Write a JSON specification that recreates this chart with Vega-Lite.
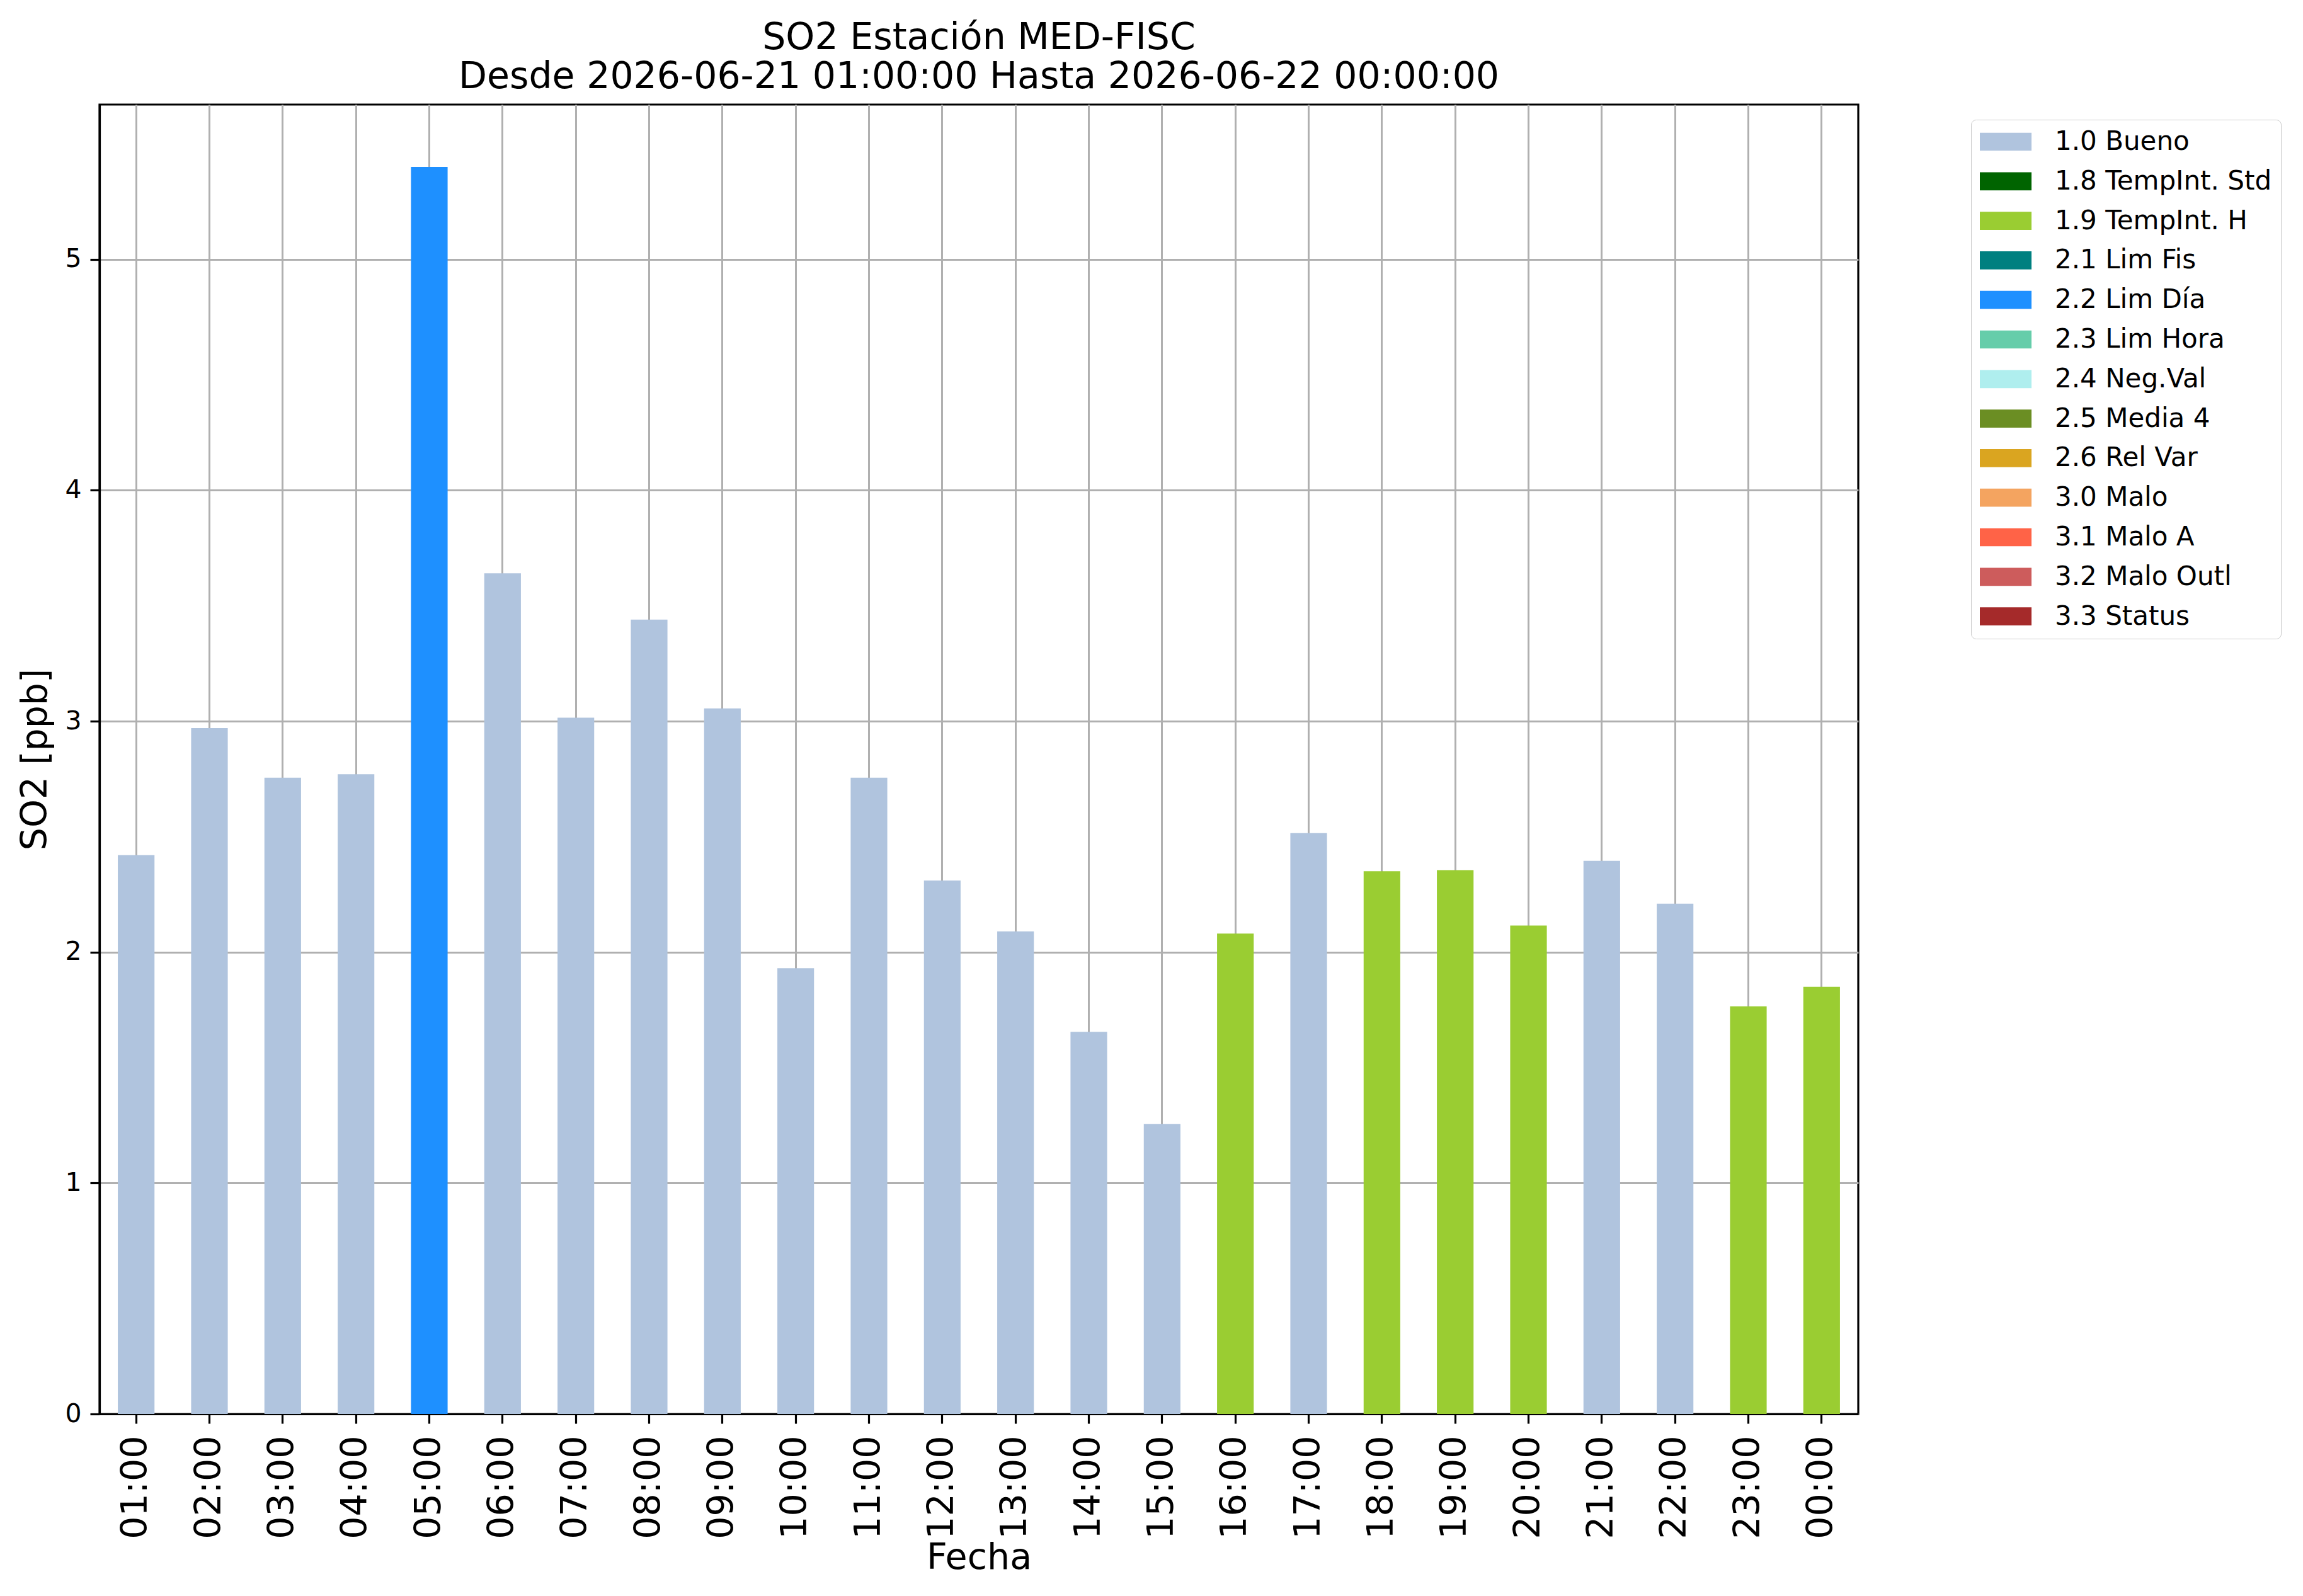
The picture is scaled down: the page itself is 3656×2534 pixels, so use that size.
{
  "$schema": "https://vega.github.io/schema/vega-lite/v6.json",
  "description": "SO2 hourly concentration at station MED-FISC with validation flags.",
  "autosize": {"type": "none"},
  "padding": {"left": 158, "top": 166, "right": 706, "bottom": 289},
  "width": 2792,
  "height": 2079,
  "background": "white",
  "title": {
    "text": ["SO2 Estación MED-FISC", "Desde 2026-06-21 01:00:00 Hasta 2026-06-22 00:00:00"],
    "font": "DejaVu Sans",
    "fontSize": 58.5,
    "fontWeight": "normal",
    "color": "black",
    "anchor": "middle",
    "baseline": "bottom",
    "lineHeight": 62,
    "offset": -44
  },
  "config": {
    "view": {"stroke": "black", "strokeWidth": 3.2},
    "axis": {
      "labelFont": "DejaVu Sans",
      "titleFont": "DejaVu Sans",
      "labelColor": "black",
      "titleColor": "black",
      "titleFontWeight": "normal",
      "domainColor": "black",
      "domainWidth": 3.2,
      "tickColor": "black",
      "tickWidth": 3.2,
      "tickSize": 15,
      "gridColor": "#b0b0b0",
      "gridWidth": 3,
      "gridOpacity": 1,
      "zindex": 1
    },
    "legend": {
      "labelFont": "DejaVu Sans",
      "labelFontSize": 42,
      "labelColor": "black",
      "labelLimit": 0
    }
  },
  "data": {
    "values": [
      {"hora": "01:00", "so2": 2.42, "flag": "1.0 Bueno"},
      {"hora": "02:00", "so2": 2.97, "flag": "1.0 Bueno"},
      {"hora": "03:00", "so2": 2.755, "flag": "1.0 Bueno"},
      {"hora": "04:00", "so2": 2.77, "flag": "1.0 Bueno"},
      {"hora": "05:00", "so2": 5.4, "flag": "2.2 Lim Día"},
      {"hora": "06:00", "so2": 3.64, "flag": "1.0 Bueno"},
      {"hora": "07:00", "so2": 3.015, "flag": "1.0 Bueno"},
      {"hora": "08:00", "so2": 3.44, "flag": "1.0 Bueno"},
      {"hora": "09:00", "so2": 3.055, "flag": "1.0 Bueno"},
      {"hora": "10:00", "so2": 1.93, "flag": "1.0 Bueno"},
      {"hora": "11:00", "so2": 2.755, "flag": "1.0 Bueno"},
      {"hora": "12:00", "so2": 2.31, "flag": "1.0 Bueno"},
      {"hora": "13:00", "so2": 2.09, "flag": "1.0 Bueno"},
      {"hora": "14:00", "so2": 1.655, "flag": "1.0 Bueno"},
      {"hora": "15:00", "so2": 1.255, "flag": "1.0 Bueno"},
      {"hora": "16:00", "so2": 2.08, "flag": "1.9 TempInt. H"},
      {"hora": "17:00", "so2": 2.515, "flag": "1.0 Bueno"},
      {"hora": "18:00", "so2": 2.35, "flag": "1.9 TempInt. H"},
      {"hora": "19:00", "so2": 2.355, "flag": "1.9 TempInt. H"},
      {"hora": "20:00", "so2": 2.115, "flag": "1.9 TempInt. H"},
      {"hora": "21:00", "so2": 2.395, "flag": "1.0 Bueno"},
      {"hora": "22:00", "so2": 2.21, "flag": "1.0 Bueno"},
      {"hora": "23:00", "so2": 1.765, "flag": "1.9 TempInt. H"},
      {"hora": "00:00", "so2": 1.85, "flag": "1.9 TempInt. H"}
    ]
  },
  "mark": {"type": "bar"},
  "encoding": {
    "x": {
      "field": "hora",
      "type": "ordinal",
      "sort": null,
      "scale": {"paddingInner": 0.5, "paddingOuter": 0.25},
      "axis": {
        "title": "Fecha",
        "titleFontSize": 57,
        "titlePadding": 2,
        "labelFontSize": 57,
        "labelAngle": 270,
        "labelAlign": "right",
        "labelBaseline": "middle",
        "labelPadding": 19,
        "grid": true
      }
    },
    "y": {
      "field": "so2",
      "type": "quantitative",
      "scale": {"domain": [0, 5.67], "nice": false, "zero": true},
      "axis": {
        "title": "SO2 [ppb]",
        "titleFontSize": 57,
        "titlePadding": 17,
        "labelFontSize": 41,
        "labelPadding": 14,
        "values": [0, 1, 2, 3, 4, 5],
        "format": "d",
        "grid": true
      }
    },
    "color": {
      "field": "flag",
      "type": "nominal",
      "scale": {
        "domain": ["1.0 Bueno", "1.8 TempInt. Std", "1.9 TempInt. H", "2.1 Lim Fis", "2.2 Lim Día", "2.3 Lim Hora", "2.4 Neg.Val", "2.5 Media 4", "2.6 Rel Var", "3.0 Malo", "3.1 Malo A", "3.2 Malo Outl", "3.3 Status"],
        "range": ["#b0c4de", "#006400", "#9acd32", "#008080", "#1e90ff", "#66cdaa", "#afeeee", "#6b8e23", "#daa520", "#f4a460", "#ff6347", "#cd5c5c", "#a52a2a"]
      },
      "legend": {
        "title": null,
        "orient": "none",
        "legendX": 2971,
        "legendY": 24,
        "symbolType": "M-2,-0.7H2V0.7H-2Z",
        "symbolSize": 1681,
        "symbolOpacity": 1,
        "symbolStrokeWidth": 0,
        "symbolOffset": 20,
        "labelOffset": 57,
        "labelLimit": 0,
        "rowPadding": 20.8,
        "padding": 14,
        "strokeColor": "#cccccc",
        "fillColor": "white",
        "cornerRadius": 8
      }
    }
  }
}
